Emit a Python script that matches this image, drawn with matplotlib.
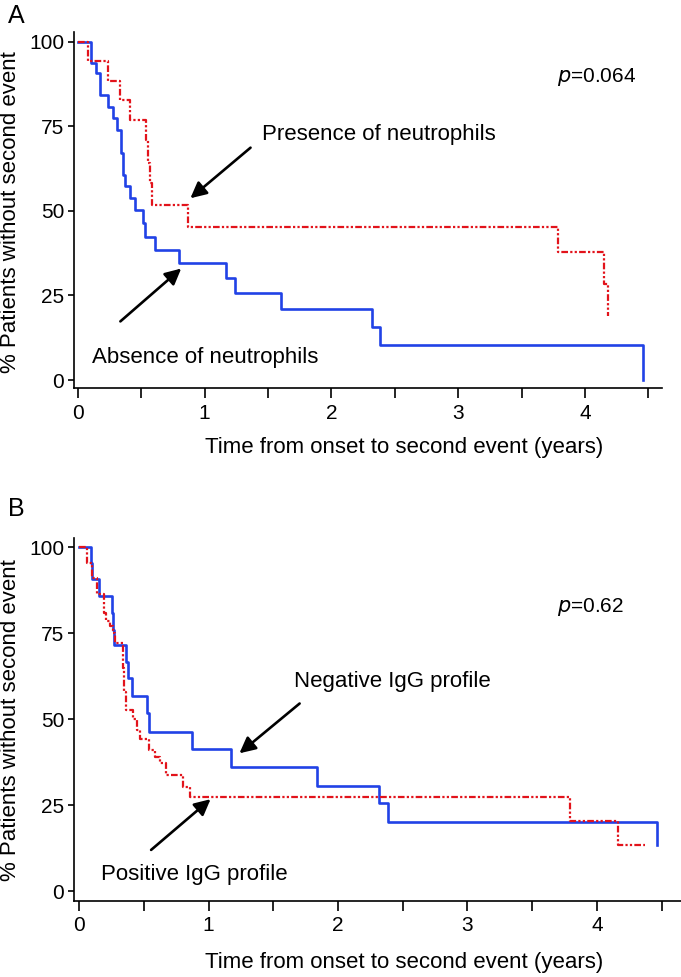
"""
Kaplan-Meier style curves, time to second event (panels A and B)
"""
import numpy as np
import matplotlib
matplotlib.use("Agg")
import matplotlib.pyplot as plt
from matplotlib.ticker import MultipleLocator

plt.rcParams['font.family'] = ['Liberation Sans', 'DejaVu Sans']
plt.rcParams['font.size'] = 15

##################################
# panel A : neutrophils
absT = [0, 0.10, 0.144, 0.175, 0.24, 0.28, 0.307, 0.338, 0.354, 0.372, 0.41, 0.451,
        0.512, 0.53, 0.609, 0.80, 1.17, 1.24, 1.60, 2.32, 2.38, 4.46]
absV = [100, 93.6, 90.7, 84.2, 80.8, 77.4, 73.9, 67.0, 60.6, 57.2, 53.7, 50.2,
        46.3, 42.4, 38.4, 34.5, 30.1, 25.8, 20.9, 15.6, 10.4, 0]

preT = [0, 0.083, 0.24, 0.33, 0.41, 0.538, 0.556, 0.569, 0.583, 0.87, 3.79, 4.15, 4.18]
preV = [100, 94.4, 88.5, 82.8, 76.9, 70.9, 64.1, 58.2, 51.7, 45.3, 37.7, 28.3, 18.9]

# panel B : IgG profile
negT = [0, 0.09, 0.10, 0.157, 0.252, 0.262, 0.268, 0.363, 0.381, 0.407, 0.523, 0.54,
        0.870, 1.171, 1.835, 2.319, 2.384, 4.46]
negV = [100, 95.3, 90.9, 85.8, 80.8, 76.0, 71.6, 66.7, 61.9, 56.9, 51.7, 46.4,
        41.3, 36.0, 30.7, 25.8, 20.2, 13.5]

posT = [0, 0.065, 0.10, 0.14, 0.19, 0.21, 0.24, 0.26, 0.28, 0.342, 0.35, 0.36, 0.414,
        0.445, 0.471, 0.543, 0.587, 0.625, 0.668, 0.80, 0.855, 3.792, 4.165, 4.37]
posV = [100, 95.5, 91.0, 86.5, 81.0, 78.5, 77.2, 75.0, 72.1, 65.0, 58.0, 52.7, 50.0,
        46.9, 44.2, 41.0, 39.0, 37.2, 33.8, 30.4, 27.3, 20.4, 13.6, 13.6]

blue = '#2142E6'
red = '#E2131B'
redStyle = (0, (3.0, 1.0, 1.0, 1.0, 1.0, 1.0))
arrowProps = dict(arrowstyle='-|>', color='k', lw=1.9, mutation_scale=24)

fig = plt.figure(figsize=(6.81, 9.77), dpi=100)
axA = fig.add_axes([0.1087, 0.6026, 0.8631, 0.3644])
axB = fig.add_axes([0.1087, 0.0778, 0.8913, 0.3712])


def style_axis(ax, xlim, ylim, labelX, labelY):
    for side in ['top', 'right']:
        ax.spines[side].set_visible(False)
    for side in ['left', 'bottom']:
        ax.spines[side].set_linewidth(1.2)
    ax.set_xlim(*xlim)
    ax.set_ylim(*ylim)
    ax.set_yticks([0, 25, 50, 75, 100])
    ax.set_xticks([0, 1, 2, 3, 4])
    ax.xaxis.set_minor_locator(MultipleLocator(0.5))
    ax.tick_params(axis='x', which='both', length=7, width=1.2, pad=4, labelsize=15)
    ax.tick_params(axis='y', length=4.5, width=1.2, pad=2.5, labelsize=15)
    ax.set_xlabel("Time from onset to second event (years)", fontsize=16)
    ax.xaxis.set_label_coords(labelX, labelY)


# ---- A
axA.step(absT, absV, where='post', color=blue, lw=1.9, zorder=3)
axA.step(preT, preV, where='post', color=red, lw=1.6, linestyle=redStyle, zorder=4)
style_axis(axA, (-0.030, 4.606), (-2.42, 102.78), 0.561, -0.137)

axA.text(3.78, 88.1, r"$\it{p}$=0.064", fontsize=15)
axA.text(1.45, 71.0, "Presence of neutrophils", fontsize=16)
axA.annotate("", xy=(0.871, 53.2), xytext=(1.379, 69.2), arrowprops=arrowProps)
axA.text(0.11, 5.0, "Absence of neutrophils", fontsize=16)
axA.annotate("", xy=(0.832, 33.5), xytext=(0.319, 16.8), arrowprops=arrowProps)

# ---- B
axB.step(negT, negV, where='post', color=blue, lw=1.9, zorder=3)
axB.step(posT, posV, where='post', color=red, lw=1.6, linestyle=redStyle, zorder=4)
style_axis(axB, (-0.039, 4.649), (-2.82, 102.6), 0.544, -0.141)

axB.text(3.69, 81.2, r"$\it{p}$=0.62", fontsize=15)
axB.text(1.66, 59.5, "Negative IgG profile", fontsize=16)
axB.annotate("", xy=(1.222, 39.6), xytext=(1.72, 55.1), arrowprops=arrowProps)
axB.text(0.168, 3.3, "Positive IgG profile", fontsize=16)
axB.annotate("", xy=(1.032, 27.3), xytext=(0.54, 11.5), arrowprops=arrowProps)

# y labels and panel letters
fig.text(11 / 681, 1 - 212 / 977, "% Patients without second event", rotation=90,
         ha='center', va='center', fontsize=16)
fig.text(11 / 681, 1 - 720 / 977, "% Patients without second event", rotation=90,
         ha='center', va='center', fontsize=16)
fig.text(8 / 681, 1 - 23 / 977, "A", fontsize=18, va='baseline')
fig.text(8 / 681, 1 - 516 / 977, "B", fontsize=18, va='baseline')

plt.savefig("out.png", dpi=100)
